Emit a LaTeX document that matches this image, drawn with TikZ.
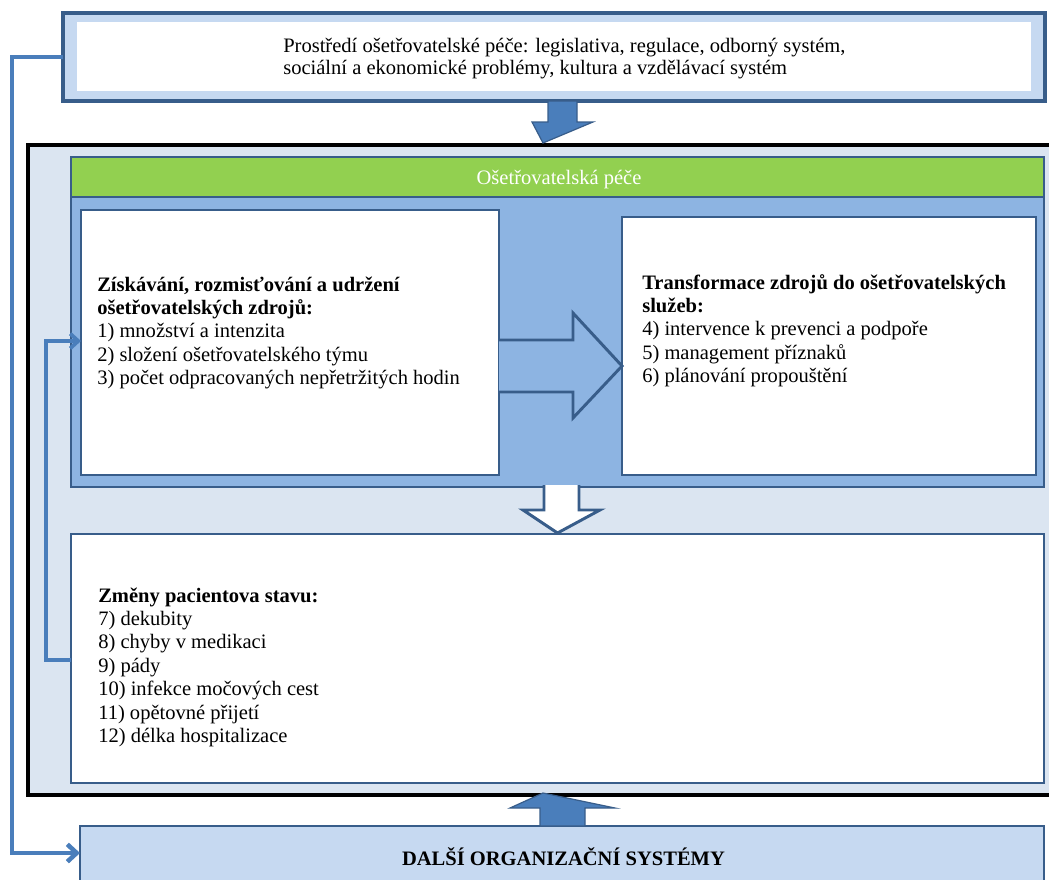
\documentclass[tikz,border=0pt]{standalone}
\usepackage{fontspec}
\setmainfont{Liberation Serif}
\usetikzlibrary{arrows.meta,fit}
\definecolor{edgeblue}{RGB}{56,93,138}
\definecolor{accent}{RGB}{74,126,187}
\definecolor{lightband}{RGB}{198,217,241}
\definecolor{paleblue}{RGB}{219,229,241}
\definecolor{panelblue}{RGB}{141,180,226}
\definecolor{leafgreen}{RGB}{146,208,80}
\begin{document}
\begin{tikzpicture}[x=0.75pt,y=-0.75pt,
  area/.style={inner sep=0pt, outer sep=0pt},
  boxed/.style={area, draw=edgeblue, line width=#1},
  boxed/.default=2.2pt,
  txt/.style={inner sep=0pt, anchor=base west, font=\fontsize{15.4}{17.6}\selectfont},
  ctxt/.style={inner sep=0pt, anchor=base, font=\fontsize{15.4}{17.6}\selectfont},
  solidarrow/.style={fill=accent, draw=edgeblue, line width=0.9pt, line join=miter},
  hollowarrow/.style={draw=edgeblue, line width=2.2pt, line join=miter},
  outerlink/.style={draw=accent, line width=3.4pt, -{Straight Barb[length=7pt,width=13pt]}},
  innerlink/.style={draw=accent, line width=2.8pt, -{Straight Barb[length=6pt,width=11pt]}}]

\useasboundingbox (0,0) rectangle (1049,879);

% outer frame of the nursing system
\node[area, draw=black, line width=2.3pt, fill=paleblue, fit={(28,145) (1058,795)}] (frame) {};

% green title bar and blue panel with the two process boxes
\node[boxed=1.6pt, fill=leafgreen, fit={(71,157) (1044,197)}] (title) {};
\node[boxed, fill=panelblue, fit={(71,197) (1044,487)}] (panel) {};
\node[boxed, fill=white, fit={(81,210) (499,475)}] (inputs) {};
\node[boxed, fill=white, fit={(622,217) (1036,475)}] (transform) {};

% block arrow between the process boxes
\filldraw[hollowarrow, fill=panelblue]
  (inputs.east |- 0,340) -- (573,340) -- (573,313) -- (transform.west |- 0,366)
  -- (573,418) -- (573,392) -- (inputs.east |- 0,392);

% patient outcomes box
\node[boxed=1.8pt, fill=white, fit={(71,534) (1044,783)}] (outcomes) {};

% hollow arrow from the panel down to the outcomes
\filldraw[hollowarrow, fill=white]
  (544,485) -- (544,510) -- (523,510) -- (outcomes.north |- 0,533) -- (600,510) -- (579,510) -- (579,485);

% environment box at the top
\node[boxed=2.4pt, fill=lightband, fit={(63,13) (1045,101)}] (env) {};
\node[area, fill=white, fit={(77,22) (1031,91)}] (envinner) {};

% other organisational systems at the bottom
\node[boxed=2pt, fill=lightband, fit={(80,826) (1044,905)}] (others) {};

% solid arrows into and out of the frame
\filldraw[solidarrow]
  (548,101) -- (548,122) -- (532,122) -- (frame.north |- 0,143) -- (593,122) -- (577,122) -- (577,101) -- cycle;
\filldraw[solidarrow]
  (540,826) -- (540,808) -- (510,808) -- (frame.south |- 0,793) -- (615,808) -- (585,808) -- (585,826) -- cycle;

% feedback connectors
\draw[outerlink] (env.west) -- (12,57) |- (others.west |- 0,853);
\draw[innerlink] (outcomes.west |- 0,660) -| (46,341) -- (inputs.west |- 0,341);

% texts
\node[txt] (envtext) at (283,52.7) {\fontsize{15.4}{16.1}\selectfont\begin{tabular}[t]{@{}l@{}}
Prostředí ošetřovatelské péče: legislativa, regulace, odborný systém,\\
sociální a ekonomické problémy, kultura a vzdělávací systém\end{tabular}};

\node[ctxt, text=white] (titletext) at (559,184) {Ošetřovatelská péče};

\node[txt] (inputstext) at (97,291) {\begin{tabular}[t]{@{}l@{}}
\textbf{Získávání, rozmisťování a udržení}\\
\textbf{ošetřovatelských zdrojů:}\\
1) množství a intenzita\\
2) složení ošetřovatelského týmu\\
3) počet odpracovaných nepřetržitých hodin\end{tabular}};

\node[txt] (transformtext) at (642,289) {\begin{tabular}[t]{@{}l@{}}
\textbf{Transformace zdrojů do ošetřovatelských}\\
\textbf{služeb:}\\
4) intervence k prevenci a podpoře\\
5) management příznaků\\
6) plánování propouštění\end{tabular}};

\node[txt] (outcomestext) at (98,602) {\begin{tabular}[t]{@{}l@{}}
\textbf{Změny pacientova stavu:}\\
7) dekubity\\
8) chyby v medikaci\\
9) pády\\
10) infekce močových cest\\
11) opětovné přijetí\\
12) délka hospitalizace\end{tabular}};

\node[ctxt, font=\fontsize{15.4}{17.6}\selectfont\bfseries] (otherstext) at (563.5,865) {DALŠÍ ORGANIZAČNÍ SYSTÉMY};

\end{tikzpicture}
\end{document}
